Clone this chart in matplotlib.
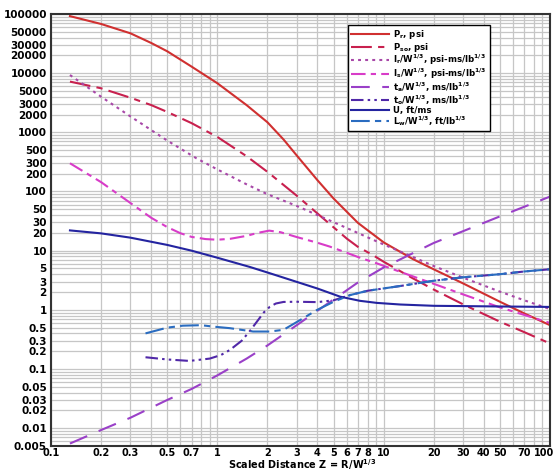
import numpy as np
import matplotlib
matplotlib.use('Agg')
import matplotlib.pyplot as plt
from matplotlib.ticker import FixedLocator, NullFormatter, LogLocator
from matplotlib.transforms import ScaledTranslation

# Fuente ancha en negrita para todo el texto
plt.rcParams['font.family'] = ['DejaVu Sans']
plt.rcParams['font.weight'] = 'bold'
plt.rcParams['mathtext.fontset'] = 'custom'
plt.rcParams['mathtext.rm'] = 'DejaVu Sans:bold'
plt.rcParams['mathtext.it'] = 'DejaVu Sans:bold'
plt.rcParams['mathtext.bf'] = 'DejaVu Sans:bold'

# Datos (Z = R/W^1/3)
z_pr = [0.13, 0.2, 0.3, 0.4, 0.5, 0.7, 1.0, 1.5, 2.0, 2.5, 3.0, 4.0, 5.0, 7.0, 10, 15, 20, 30, 50, 70, 100]
pr = [92000, 67800, 47200, 32400, 23400, 12900, 6760, 2880, 1480, 757, 407, 155, 76, 29.5, 13.8, 7.2,
      4.84, 2.8, 1.37, 0.87, 0.55]

z_pso = [0.13, 0.2, 0.3, 0.4, 0.5, 0.7, 1.0, 1.5, 2.0, 3.0, 4.0, 5.0, 6.0, 7.0, 8.5, 10, 15, 20, 30, 50, 70, 100]
pso = [7200, 5550, 3850, 2890, 2210, 1430, 836, 394, 215, 85, 42.5, 24.8, 16.0, 11.6, 8.6, 6.5, 3.4, 2.2,
       1.24, 0.63, 0.42, 0.27]

z_ir = [0.13, 0.2, 0.3, 0.5, 0.75, 1.0, 1.5, 2.0, 3.0, 5.0, 7.0, 10, 13, 20, 30, 50, 70, 100]
ir = [9300, 4000, 1860, 725, 363, 236, 132, 90, 57, 30.3, 19.9, 12.7, 9.3, 5.5, 3.5, 2.03, 1.45, 1.03]

z_is = [0.13, 0.2, 0.3, 0.4, 0.5, 0.6, 0.7, 0.85, 1.0, 1.2, 1.5, 1.75, 2.05, 2.4, 3.0, 4.0, 4.75, 6.0,
        7.2, 9.1, 12, 20, 28.8, 50, 70, 100]
is_ = [300, 144, 64, 36, 25, 19.7, 17.1, 15.7, 15.3, 15.9, 17.8, 20, 21.8, 20.5, 17, 13.6, 11.7, 9.2,
       7.6, 6.1, 4.6, 2.75, 1.9, 1.1, 0.82, 0.6]

z_ta = [0.13, 0.2, 0.3, 0.5, 0.7, 1.0, 1.5, 2.0, 3.0, 5.0, 7.0, 10, 20, 50, 100]
ta = [0.0055, 0.0093, 0.015, 0.030, 0.046, 0.078, 0.15, 0.25, 0.55, 1.5, 2.9, 5.2, 13.5, 38, 82]

z_to = [0.37, 0.5, 0.68, 0.9, 1.05, 1.19, 1.4, 1.57, 1.75, 1.9, 2.07, 2.25, 2.5, 3.0, 4.0, 5.0, 6.3,
        8.0, 12.6, 20, 30, 50, 70, 100]
to = [0.158, 0.145, 0.137, 0.150, 0.172, 0.21, 0.30, 0.44, 0.66, 0.90, 1.13, 1.28, 1.36, 1.37, 1.35,
      1.45, 1.78, 2.1, 2.53, 3.1, 3.55, 4.0, 4.45, 4.85]

z_u = [0.13, 0.2, 0.3, 0.5, 0.7, 1.0, 1.57, 2.07, 3.14, 4.0, 5.47, 7.2, 9.1, 12.6, 20, 50, 100]
u = [22, 19.6, 16.6, 12.5, 10.0, 7.6, 5.3, 4.15, 2.85, 2.29, 1.67, 1.42, 1.31, 1.23, 1.17, 1.14, 1.12]

z_lw = [0.37, 0.5, 0.62, 0.8, 0.95, 1.19, 1.64, 2.07, 2.5, 3.14, 3.96, 5.0, 6.3, 8.0, 12.6, 20, 30,
        50, 70, 100]
lw = [0.40, 0.50, 0.54, 0.55, 0.52, 0.49, 0.43, 0.43, 0.46, 0.67, 0.99, 1.37, 1.78, 2.1, 2.53, 3.1,
      3.55, 4.0, 4.45, 4.85]

ticks_x = [0.1, 0.2, 0.3, 0.5, 0.7, 1, 2, 3, 4, 5, 6, 7, 8, 10, 20, 30, 40, 50, 70, 100]
etiquetas_x = ['0.1', '0.2', '0.3', '0.5', '0.7', '1', '2', '3', '4', '5', '6', '7', '8', '10',
               '20', '30', '40', '50', '70', '100']
ticks_y = [100000, 50000, 30000, 20000, 10000, 5000, 3000, 2000, 1000, 500, 300, 200, 100,
           50, 30, 20, 10, 5, 3, 2, 1, 0.5, 0.3, 0.2, 0.1, 0.05, 0.03, 0.02, 0.01, 0.005]
etiquetas_y = ['100000', '50000', '30000', '20000', '10000', '5000', '3000', '2000', '1000',
               '500', '300', '200', '100', '50', '30', '20', '10', '5', '3', '2', '1',
               '0.5', '0.3', '0.2', '0.1', '0.05', '0.03', '0.02', '0.01', '0.005']

fig = plt.figure(figsize=(5.58, 4.71), dpi=100)
ax = fig.add_axes([0.0914, 0.0531, 0.8943, 0.9172])

ax.plot(z_pr, pr, color='#d03030', lw=1.5, label='P$_r$, psi')
ax.plot(z_pso, pso, color='#c8204e', lw=1.5, dashes=(10, 3, 3, 3), label='P$_{so}$, psi')
ax.plot(z_ir, ir, color='#a848a8', lw=1.5, dashes=(1.4, 2), label='I$_r$/W$^{1/3}$, psi-ms/lb$^{1/3}$')
ax.plot(z_is, is_, color='#d83cc8', lw=1.5, dashes=(7, 2.5, 2.5, 2.5), label='I$_s$/W$^{1/3}$, psi-ms/lb$^{1/3}$')
ax.plot(z_ta, ta, color='#9a40c8', lw=1.5, dashes=(9, 6), label='t$_a$/W$^{1/3}$, ms/lb$^{1/3}$')
ax.plot(z_to, to, color='#5028a8', lw=1.5, dashes=(6, 2, 1.2, 2, 1.2, 2), label='t$_o$/W$^{1/3}$, ms/lb$^{1/3}$')
ax.plot(z_u, u, color='#2424a0', lw=1.5, label='U, ft/ms')
ax.plot(z_lw, lw, color='#2a6cc0', lw=1.5, dashes=(9, 2.5, 3, 2.5), label='L$_w$/W$^{1/3}$, ft/lb$^{1/3}$')

ax.set_xscale('log')
ax.set_yscale('log')
ax.set_xlim(0.1, 100)
ax.set_ylim(0.005, 100000)

# Rejilla en todos los multiplos 1..9 de cada decada
ax.xaxis.set_minor_locator(LogLocator(base=10, subs=np.arange(1, 10), numticks=50))
ax.yaxis.set_minor_locator(LogLocator(base=10, subs=np.arange(1, 10), numticks=50))
ax.xaxis.set_minor_formatter(NullFormatter())
ax.yaxis.set_minor_formatter(NullFormatter())
ax.xaxis.set_major_locator(FixedLocator(ticks_x))
ax.yaxis.set_major_locator(FixedLocator(ticks_y))
ax.set_xticklabels(etiquetas_x)
ax.set_yticklabels(etiquetas_y)
ax.tick_params(which='both', length=0)
ax.tick_params(axis='x', pad=1.5, labelsize=7)
ax.tick_params(axis='y', pad=3, labelsize=7.5)
ax.grid(which='both', color='#c6c6c6', lw=0.9)
ax.set_axisbelow(True)

# la etiqueta "100" pegada al borde derecho
ultima = ax.get_xticklabels()[-1]
ultima.set_transform(ultima.get_transform() + ScaledTranslation(-4 / 72, 0, fig.dpi_scale_trans))

for lado in ax.spines.values():
    lado.set_color('#333333')
    lado.set_linewidth(1.5)

ax.set_xlabel('Scaled Distance Z = R/W$^{1/3}$', fontsize=7, fontweight='bold')
ax.xaxis.set_label_coords(0.503, -0.027)

leg = ax.legend(loc='upper right', bbox_to_anchor=(0.88, 0.9745), borderaxespad=0, fontsize=6.2,
                handlelength=4.4, labelspacing=-0.1, borderpad=0.4, handletextpad=0.5,
                fancybox=False, framealpha=1, edgecolor='black')
leg.get_frame().set_linewidth(1.0)

plt.savefig('out.png', dpi=100)
plt.close()
